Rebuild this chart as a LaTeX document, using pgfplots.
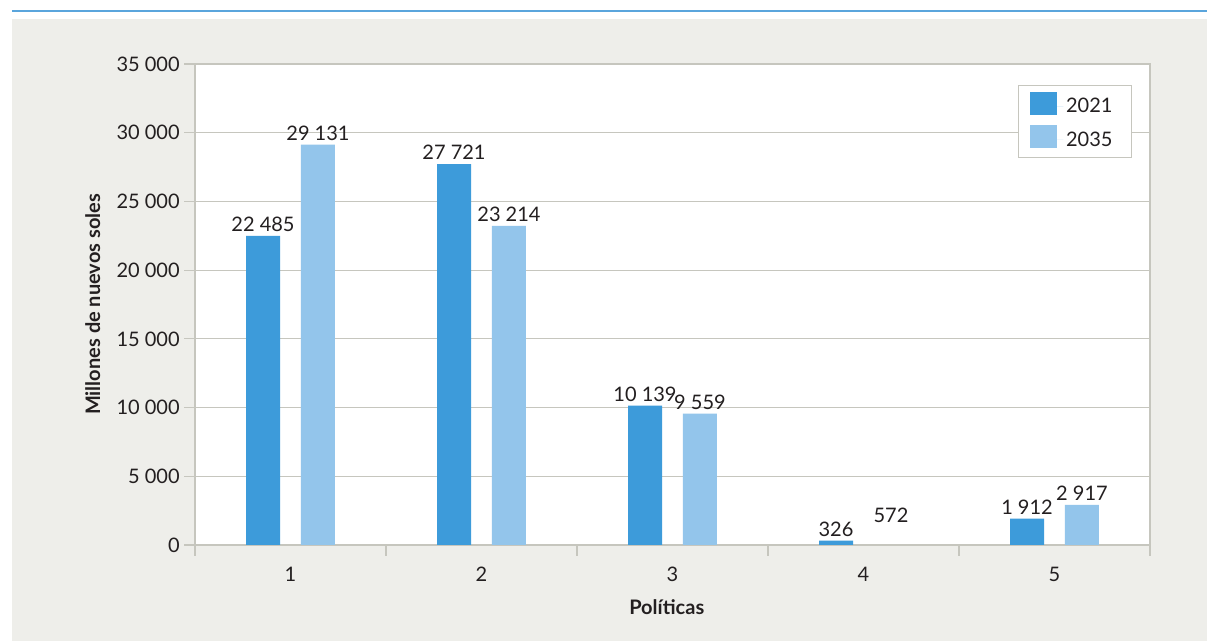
\documentclass[border=0pt]{standalone}
\usepackage{pgfplots}
\pgfplotsset{compat=1.18}
\usepackage{fontspec}
\setmainfont{Lato}
\definecolor{darkbar}{HTML}{3D9BDA}
\definecolor{lightbar}{HTML}{93C5EB}
\definecolor{bg}{HTML}{EEEEEA}
\definecolor{axgrey}{HTML}{C6C6BE}
\definecolor{topline}{HTML}{5AA5DC}
\definecolor{txt}{HTML}{231F20}
\newcommand{\fs}{\fontsize{15}{18}\selectfont}

\begin{document}
\begin{tikzpicture}[x=0.75pt,y=0.75pt]
\path[use as bounding box] (0,0) rectangle (1207,641);
\fill[bg] (12,0) rectangle (1207,622);
\draw[topline, line width=1pt] (12,630) -- (1207,630);
\begin{axis}[
  at={(146.25pt,72pt)}, anchor=south west,
  scale only axis, width=716.25pt, height=360.75pt,
  axis background/.style={fill=white},
  xmin=0.5, xmax=5.5, ymin=0, ymax=35000,
  xtick={0.5,1.5,2.5,3.5,4.5,5.5},
  xticklabels={},
  extra x ticks={1,2,3,4,5},
  extra x tick labels={1,2,3,4,5},
  extra x tick style={tick style={draw=none}, xticklabel style={yshift=-5pt}},
  xtick pos=bottom, ytick pos=left,
  ytick={0,5000,...,35000},
  ymajorgrids, grid style={draw=axgrey, line width=0.8pt},
  tick align=outside, major tick length=8pt,
  tick style={draw=axgrey, line width=0.8pt},
  axis line style={draw=axgrey, line width=0.8pt},
  x axis line style={line width=1.2pt},
  tick label style={font=\fs, text=txt},
  /pgf/number format/.cd, fixed, precision=0, 1000 sep={\ }, assume math mode=true, /pgfplots/.cd,
  scaled y ticks=false,
  xlabel={Políticas},
  ylabel={Millones de nuevos soles},
  label style={font=\fs\bfseries, text=txt},
  xlabel style={at={(axis description cs:0.494,-0.129)}, anchor=center},
  ylabel style={at={(axis description cs:-0.107,0.5)}, anchor=center},
  ybar, bar width=25.5pt,
  nodes near coords,
  nodes near coords style={font=\fs, text=txt, inner sep=3pt},
  legend image code/.code={\fill[#1] (0pt,-6.5pt) rectangle (20pt,10.75pt);
    \path (0pt,0pt) -- (25pt,0pt);},
  legend style={at={(1,1)}, anchor=north east, xshift=-13.5pt, yshift=-15.75pt,
    draw=axgrey, line width=0.8pt, font=\fs, text=txt,
    inner xsep=9pt, inner ysep=5pt, row sep=6pt},
  legend cell align=left,
]
\addplot[fill=darkbar, draw=none, bar shift=-20.6pt] coordinates {
  (1,22485) (2,27721) (3,10139) (4,326) (5,1912)
};
\addlegendentry{\makebox[38pt][l]{2021}}
\addplot[fill=lightbar, draw=none, bar shift=20.6pt] coordinates {
  (1,29131) (2,23214) (3,9559) (5,2917)
};
\addlegendentry{\makebox[38pt][l]{2035}}
\addplot[fill=none, draw=none, bar shift=20.6pt, forget plot,
  every node near coord/.append style={yshift=7.5pt}] coordinates {
  (4,572)
};
\end{axis}
\end{tikzpicture}
\end{document}
